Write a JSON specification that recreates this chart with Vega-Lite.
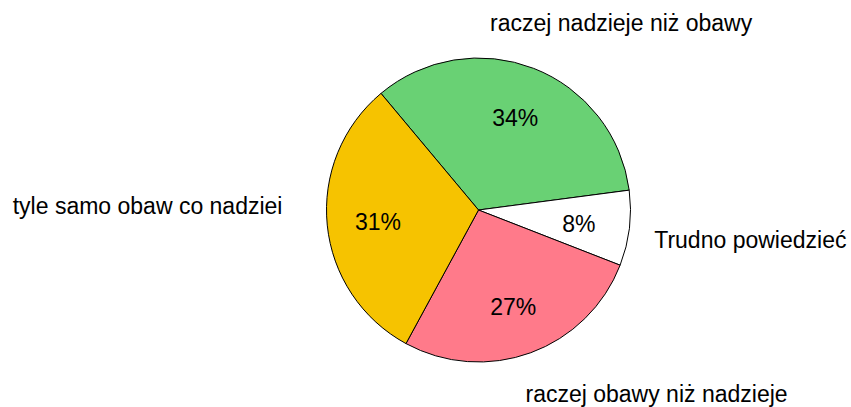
{
  "$schema": "https://vega.github.io/schema/vega-lite/v6.json",
  "width": 745,
  "height": 394,
  "padding": {"left": 106, "top": 13, "right": 0, "bottom": 0},
  "autosize": {"type": "none"},
  "background": "white",
  "config": {"view": {"stroke": null}, "font": "Liberation Sans"},
  "data": {
    "values": [
      {"order": 1, "category": "raczej nadzieje niż obawy", "value": 34, "pct": "34%"},
      {"order": 2, "category": "Trudno powiedzieć", "value": 8, "pct": "8%"},
      {"order": 3, "category": "raczej obawy niż nadzieje", "value": 27, "pct": "27%"},
      {"order": 4, "category": "tyle samo obaw co nadziei", "value": 31, "pct": "31%"}
    ]
  },
  "encoding": {
    "theta": {"field": "value", "type": "quantitative", "stack": true, "scale": {"range": [5.5867, 11.8699]}},
    "order": {"field": "order", "type": "ordinal", "sort": "ascending"}
  },
  "layer": [
    {
      "mark": {"type": "arc", "outerRadius": 152, "stroke": "black", "strokeWidth": 1},
      "encoding": {
        "color": {
          "field": "category", "type": "nominal", "legend": null,
          "scale": {
            "domain": ["raczej nadzieje niż obawy", "Trudno powiedzieć", "raczej obawy niż nadzieje", "tyle samo obaw co nadziei"],
            "range": ["#69D174", "#FFFFFF", "#FF7A8A", "#F6C300"]
          }
        }
      }
    },
    {
      "mark": {"type": "text", "radius": 101, "dy": 3, "fontSize": 23, "color": "black", "baseline": "middle", "align": "center"},
      "encoding": {"text": {"field": "pct"}}
    },
    {
      "mark": {"type": "text", "radius": 200, "dx": 70, "fontSize": 23, "color": "black", "baseline": "middle", "align": "center"},
      "encoding": {"text": {"condition": {"test": "datum.order == 1", "field": "category"}, "value": ""}}
    },
    {
      "mark": {"type": "text", "radius": 177, "dy": 10, "fontSize": 23, "color": "black", "baseline": "middle", "align": "left"},
      "encoding": {"text": {"condition": {"test": "datum.order == 2", "field": "category"}, "value": ""}}
    },
    {
      "mark": {"type": "text", "radius": 195, "dx": 111, "dy": 2, "fontSize": 23, "color": "black", "baseline": "middle", "align": "center"},
      "encoding": {"text": {"condition": {"test": "datum.order == 3", "field": "category"}, "value": ""}}
    },
    {
      "mark": {"type": "text", "radius": 197, "dy": -23, "fontSize": 23, "color": "black", "baseline": "middle", "align": "right"},
      "encoding": {"text": {"condition": {"test": "datum.order == 4", "field": "category"}, "value": ""}}
    }
  ]
}
